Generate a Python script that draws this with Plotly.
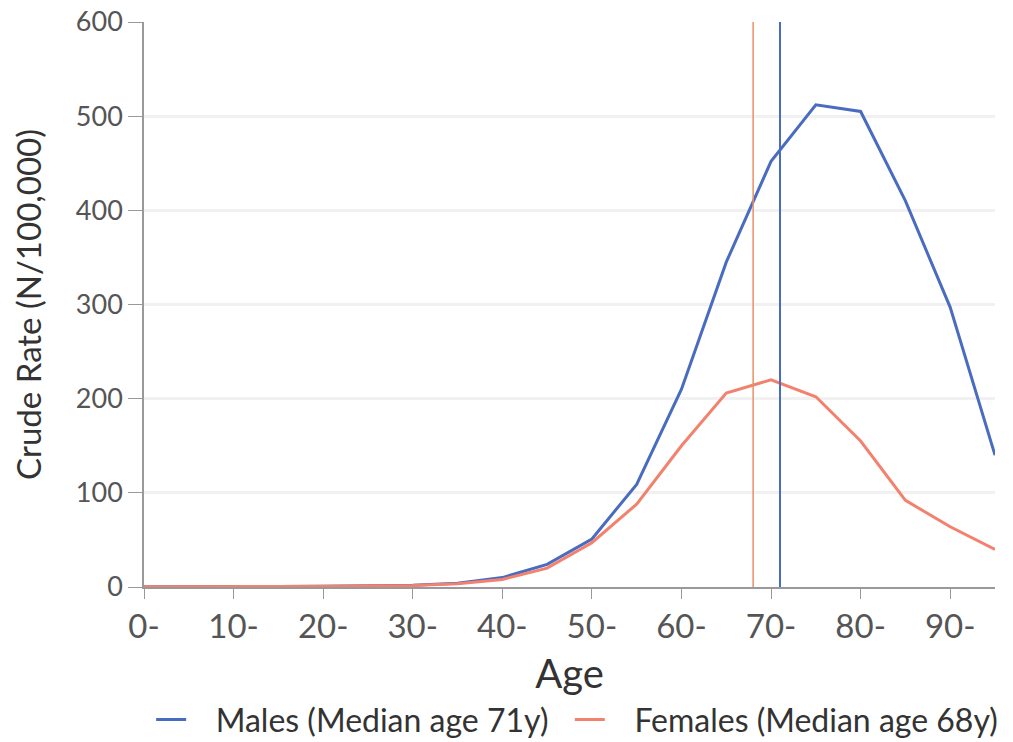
import plotly.graph_objects as go

ages = [0, 5, 10, 15, 20, 25, 30, 35, 40, 45, 50, 55, 60, 65, 70, 75, 80, 85, 90, 95]
males = [0.3, 0.2, 0.3, 0.5, 0.8, 1.0, 1.8, 4, 10, 24, 51, 109, 210, 345, 452, 512, 505, 410, 297, 140]
females = [0.3, 0.2, 0.3, 0.5, 0.8, 1.0, 1.6, 3.5, 8, 20, 47, 88, 150, 206, 220, 202, 155, 92, 64, 40]
median_ages = {"Males": 71, "Females": 68}
series_names = ["Males (Median age 71y)", "Females (Median age 68y)"]
tick_vals = [0, 10, 20, 30, 40, 50, 60, 70, 80, 90]
tick_text = ["0-", "10-", "20-", "30-", "40-", "50-", "60-", "70-", "80-", "90-"]
y_ticks = [0, 100, 200, 300, 400, 500, 600]

blue = "#4A6CC0"
salmon = "#F2826E"
orange_line = "#E8906A"
pad = "\u00a0" * 3

fig = go.Figure()
fig.add_trace(go.Scatter(x=ages, y=males, mode="lines", name=pad + series_names[0] + "\u00a0\u00a0",
                         line=dict(color=blue, width=3)))
fig.add_trace(go.Scatter(x=ages, y=females, mode="lines", name=pad + series_names[1],
                         line=dict(color=salmon, width=3)))

fig.add_shape(type="line", xref="x", yref="y", x0=median_ages["Females"], x1=median_ages["Females"],
              y0=0, y1=600, line=dict(color=orange_line, width=1.5))
fig.add_shape(type="line", xref="x", yref="y", x0=median_ages["Males"], x1=median_ages["Males"],
              y0=0, y1=600, line=dict(color=blue, width=2))

fig.update_layout(
    width=1013, height=742,
    margin=dict(l=144, r=18, t=22, b=155, autoexpand=False),
    paper_bgcolor="white", plot_bgcolor="white",
    font=dict(family="Lato", color="#444"),
    showlegend=True,
    legend=dict(orientation="h", x=0.509, xanchor="center", y=-0.235, yanchor="middle",
                font=dict(size=32, color="#333"), itemwidth=30, traceorder="normal"),
)
fig.update_xaxes(range=[0, 95], tickvals=tick_vals, ticktext=tick_text,
                 showline=True, linecolor="#999", linewidth=1.5,
                 ticks="outside", ticklen=10, tickcolor="#999",
                 tickfont=dict(size=33, color="#555"),
                 showgrid=False, zeroline=False,
                 title=dict(text="Age", font=dict(size=40, color="#333"), standoff=16))
fig.update_yaxes(range=[0, 600], tickvals=y_ticks,
                 showline=True, linecolor="#999", linewidth=1.5,
                 ticks="outside", ticklen=14, tickcolor="#999",
                 tickfont=dict(size=27, color="#555"),
                 showgrid=True, gridcolor="#F1F1F1", gridwidth=3, zeroline=False,
                 title=dict(text="Crude Rate (N/100,000)", font=dict(size=33, color="#333"), standoff=24))

fig.write_html("out.html")
